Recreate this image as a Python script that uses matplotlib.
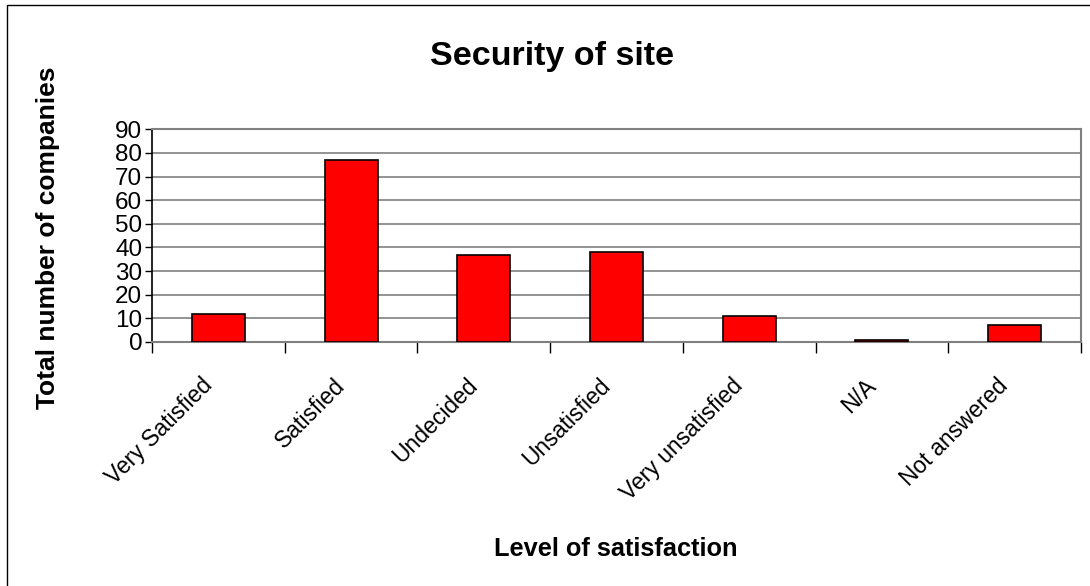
import numpy as np
import matplotlib
matplotlib.use("Agg")
import matplotlib.pyplot as plt
import matplotlib.transforms as mtransforms
from matplotlib.patches import Rectangle

# datos
categorias = ["Very Satisfied", "Satisfied", "Undecided", "Unsatisfied",
              "Very unsatisfied", "N/A", "Not answered"]
empresas = [12, 77, 37, 38, 11, 1, 7]
marcas_y = [0, 10, 20, 30, 40, 50, 60, 70, 80, 90]

plt.rcParams['font.family'] = ['Liberation Sans', 'DejaVu Sans']

fig = plt.figure(figsize=(10.9, 5.86), dpi=100)
ax = fig.add_axes([152 / 1090, 1 - 342 / 586, 929 / 1090, 212.7 / 586])

x = np.arange(len(categorias))
ax.bar(x, empresas, width=0.4, color='#ff0000', edgecolor='black',
       linewidth=1.2, zorder=3)

ax.set_xlim(-0.5, len(categorias) - 0.5)
ax.set_ylim(0, 90)
ax.set_yticks(marcas_y)
ax.set_yticklabels([str(v) for v in marcas_y], fontsize=17.5)
ax.tick_params(axis='y', length=5, width=1, pad=2, color='black')
ax.yaxis.grid(True, color='#808080', linewidth=1.2, zorder=0)

# marcas entre categorias (estilo Excel)
ax.set_xticks(x)
ax.set_xticks(np.arange(len(categorias) + 1) - 0.5, minor=True)
ax.tick_params(axis='x', which='major', length=0, pad=23)
ax.tick_params(axis='x', which='minor', length=8, width=1, color='black')
ax.set_xticklabels(categorias, rotation=45, ha='right', va='top',
                   rotation_mode='anchor', fontsize=16.5)
desplazar = mtransforms.ScaledTranslation(-18 / 100, 0, fig.dpi_scale_trans)
for etiqueta in ax.get_xticklabels():
    etiqueta.set_transform(etiqueta.get_transform() + desplazar)

for lado in ['top', 'right', 'bottom']:
    ax.spines[lado].set_color('#808080')
    ax.spines[lado].set_linewidth(1.5)
ax.spines['left'].set_color('black')
ax.spines['left'].set_linewidth(1.2)

fig.text(552 / 1090, 1 - 56 / 586, "Security of site", fontsize=24.5,
         fontweight='bold', ha='center', va='center')
fig.text(48 / 1090, 1 - 238 / 586, "Total number of companies", fontsize=19,
         fontweight='bold', rotation=90, ha='center', va='center')
fig.text(616 / 1090, 1 - 549 / 586, "Level of satisfaction", fontsize=18.3,
         fontweight='bold', ha='center', va='center')

# borde exterior del area del grafico
fig.patches.append(Rectangle((7 / 1090, -0.05), 1.2, 1 - 5 / 586 + 0.05,
                             transform=fig.transFigure, fill=False,
                             edgecolor='black', linewidth=1))

fig.savefig('out.png', dpi=100)
